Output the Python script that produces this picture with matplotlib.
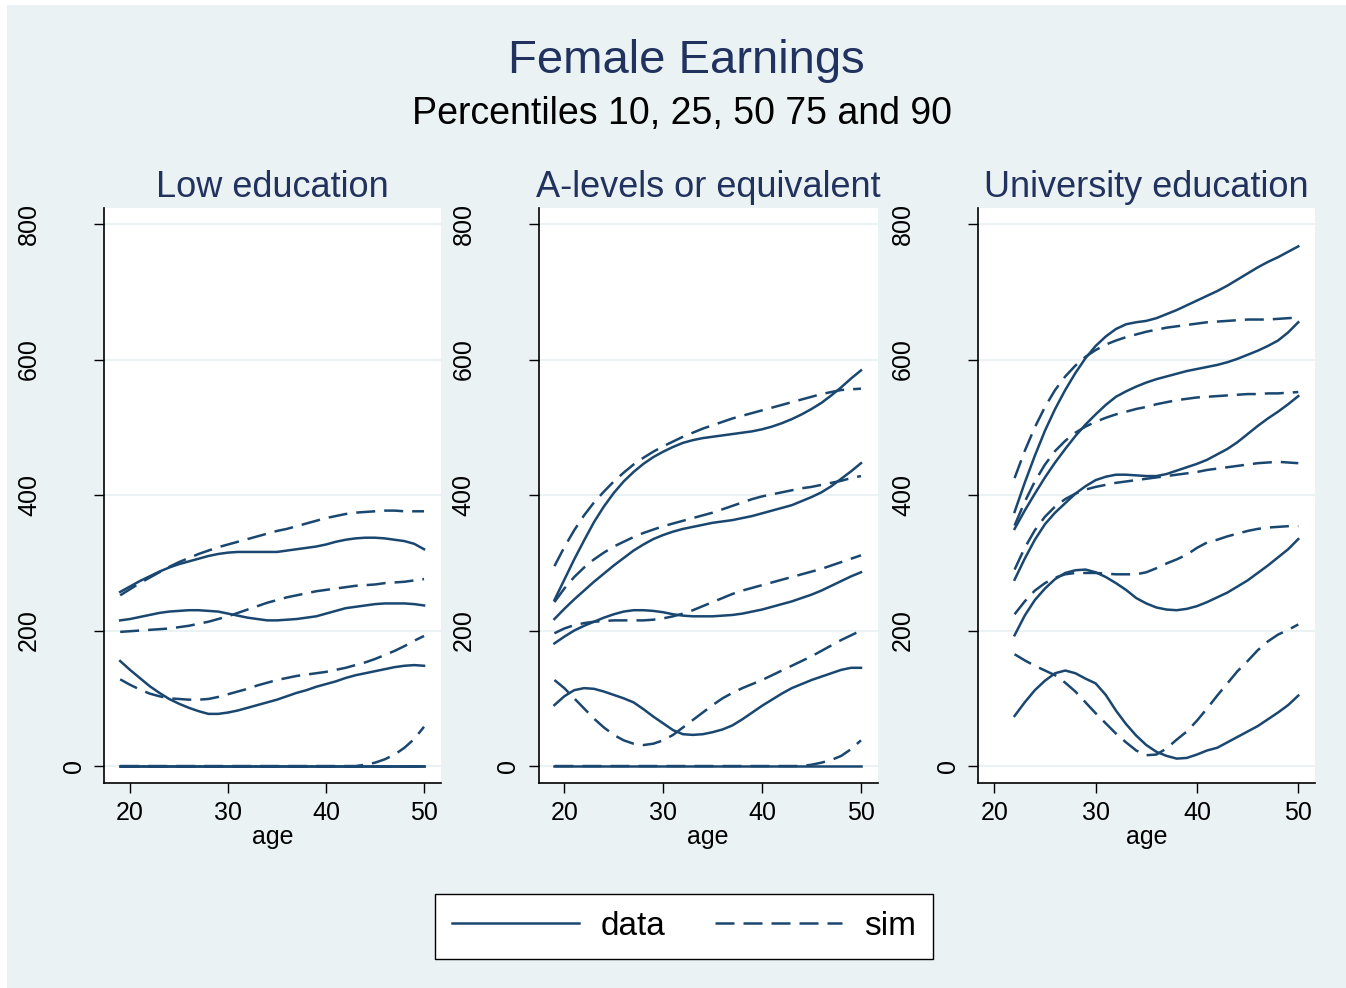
import matplotlib
matplotlib.use('Agg')
import numpy as np
import matplotlib.pyplot as plt
from matplotlib.patches import Rectangle

plt.rcParams['font.family'] = ['Liberation Sans', 'DejaVu Sans']

BG = '#EAF2F3'
NAVY = '#1A476F'
TITLE_COL = '#22325F'
DASH = (0, (7.6, 3.6))

W, H = 1346, 988

# ages on the horizontal axis
ages_young = np.arange(19, 51)   # low education / A-levels
ages_uni = np.arange(22, 51)     # university

# ---- Low education (weekly earnings percentiles) ----
low_data_p90 = [257, 265, 273, 280, 287, 293, 298, 302, 306, 310, 313, 315, 316, 316, 316, 316,
                316, 318, 320, 322, 324, 327, 331, 334, 336, 337, 337, 336, 334, 332, 328, 320]
low_sim_p90 = [252, 261, 270, 278, 286, 294, 301, 307, 313, 318, 323, 327, 331, 335, 339, 343,
               347, 350, 354, 358, 362, 366, 369, 372, 374, 375, 376, 377, 377, 376, 376, 376]
low_data_p75 = [215, 217, 220, 223, 226, 228, 229, 230, 230, 229, 228, 225, 222, 219, 217, 215,
                215, 216, 217, 219, 221, 225, 229, 233, 235, 237, 239, 240, 240, 240, 239, 237]
low_sim_p75 = [198, 199, 200, 201, 202, 203, 205, 207, 210, 213, 217, 221, 226, 231, 236, 241,
               245, 249, 252, 255, 258, 260, 262, 264, 266, 267, 268, 270, 271, 272, 274, 276]
low_data_p50 = [155, 142, 130, 118, 108, 99, 92, 86, 81, 77, 77, 79, 82, 86, 90, 94,
                98, 103, 108, 112, 117, 121, 125, 130, 134, 137, 140, 143, 146, 148, 149, 148]
low_sim_p50 = [128, 120, 113, 107, 103, 100, 99, 98, 98, 99, 102, 106, 110, 114, 119, 123,
               127, 130, 133, 135, 137, 139, 142, 145, 149, 153, 158, 164, 170, 177, 185, 192]
low_data_p25 = [0] * 32
low_sim_p25 = [0, 0, 0, 0, 0, 0, 0, 0, 0, 0, 0, 0, 0, 0, 0, 0,
               0, 0, 0, 0, 0, 0, 0, 0, 0, 2, 5, 10, 17, 27, 40, 58]
low_data_p10 = [0] * 32
low_sim_p10 = [0] * 32

# ---- A-levels or equivalent ----
alv_data_p90 = [245, 275, 305, 333, 360, 383, 403, 420, 434, 446, 456, 464, 471, 477, 481, 484,
                486, 488, 490, 492, 494, 497, 501, 506, 512, 519, 527, 536, 547, 559, 572, 584]
alv_sim_p90 = [295, 323, 348, 370, 389, 405, 420, 433, 445, 455, 464, 472, 479, 486, 492, 498,
               503, 508, 513, 517, 521, 525, 529, 533, 537, 541, 545, 549, 552, 555, 556, 557]
alv_data_p75 = [217, 232, 246, 259, 272, 284, 296, 307, 318, 327, 335, 341, 346, 350, 353, 356,
                359, 361, 363, 366, 369, 373, 377, 381, 385, 391, 397, 404, 413, 424, 435, 447]
alv_sim_p75 = [242, 262, 279, 293, 305, 315, 324, 331, 338, 344, 349, 354, 358, 362, 366, 370,
               374, 379, 384, 389, 394, 398, 401, 404, 407, 410, 412, 415, 418, 421, 425, 428]
alv_data_p50 = [181, 191, 200, 207, 213, 219, 224, 228, 230, 230, 229, 227, 224, 222, 221, 221,
                221, 222, 223, 225, 228, 231, 235, 239, 243, 248, 253, 259, 266, 273, 280, 286]
alv_sim_p50 = [196, 203, 208, 211, 213, 214, 215, 215, 215, 215, 216, 218, 221, 225, 230, 236,
               242, 248, 254, 259, 263, 267, 271, 275, 279, 283, 287, 291, 296, 301, 306, 311]
alv_data_p25 = [90, 103, 112, 115, 114, 110, 105, 100, 94, 84, 73, 63, 53, 47, 46, 47,
                50, 54, 60, 69, 79, 89, 98, 107, 115, 121, 127, 132, 137, 142, 145, 145]
alv_sim_p25 = [127, 115, 100, 85, 70, 57, 46, 38, 33, 31, 33, 38, 46, 57, 68, 79,
               90, 100, 108, 115, 121, 127, 134, 141, 148, 155, 162, 170, 178, 186, 193, 200]
alv_data_p10 = [0] * 32
alv_sim_p10 = [0, 0, 0, 0, 0, 0, 0, 0, 0, 0, 0, 0, 0, 0, 0, 0,
               0, 0, 0, 0, 0, 0, 0, 0, 0, 0, 2, 5, 9, 15, 25, 38]

# ---- University education ----
uni_data_p90 = [375, 418, 458, 495, 527, 555, 580, 602, 620, 634, 645, 652, 655, 657, 661,
                667, 673, 680, 687, 694, 701, 709, 718, 727, 736, 744, 751, 759, 767]
uni_sim_p90 = [425, 465, 500, 530, 555, 575, 591, 604, 614, 622, 628, 633, 637, 641, 644,
               647, 649, 651, 653, 655, 656, 657, 658, 659, 659, 659, 660, 661, 662]
uni_data_p75 = [350, 377, 402, 426, 448, 468, 487, 504, 519, 533, 545, 553, 560, 566, 571,
                575, 579, 583, 586, 589, 592, 596, 601, 607, 613, 620, 628, 640, 655]
uni_sim_p75 = [355, 390, 420, 445, 465, 480, 492, 501, 508, 514, 519, 523, 527, 530, 534,
               537, 540, 542, 544, 545, 546, 547, 548, 549, 549, 550, 550, 551, 552]
uni_data_p50 = [275, 306, 334, 357, 374, 388, 402, 413, 422, 427, 430, 430, 429, 428, 428,
                431, 436, 441, 446, 452, 460, 468, 478, 490, 502, 513, 523, 534, 546]
uni_sim_p50 = [290, 322, 348, 368, 383, 394, 402, 408, 412, 415, 418, 420, 422, 424, 426,
               428, 430, 432, 434, 437, 439, 441, 443, 445, 447, 448, 449, 448, 447]
uni_data_p25 = [193, 222, 245, 262, 276, 285, 289, 290, 286, 279, 270, 260, 248, 240, 234,
                231, 230, 232, 236, 242, 249, 256, 265, 274, 285, 296, 308, 320, 335]
uni_sim_p25 = [224, 243, 259, 270, 278, 283, 285, 285, 285, 284, 283, 283, 283, 286, 292,
               299, 305, 312, 322, 330, 334, 339, 343, 347, 350, 352, 353, 354, 354]
uni_data_p10 = [74, 94, 112, 126, 137, 141, 137, 129, 122, 105, 82, 62, 45, 31, 21,
                15, 11, 12, 17, 23, 27, 35, 43, 51, 59, 69, 79, 90, 104]
uni_sim_p10 = [165, 156, 148, 141, 134, 123, 110, 94, 78, 63, 48, 35, 23, 16, 17,
               26, 39, 51, 67, 85, 104, 122, 140, 155, 171, 184, 194, 201, 209]

panels = [
    ('Low education', ages_young, (17.35, 51.73),
     [low_data_p10, low_data_p25, low_data_p50, low_data_p75, low_data_p90],
     [low_sim_p10, low_sim_p25, low_sim_p50, low_sim_p75, low_sim_p90]),
    ('A-levels or equivalent', ages_young, (17.39, 51.72),
     [alv_data_p10, alv_data_p25, alv_data_p50, alv_data_p75, alv_data_p90],
     [alv_sim_p10, alv_sim_p25, alv_sim_p50, alv_sim_p75, alv_sim_p90]),
    ('University education', ages_uni, (18.39, 51.65),
     [uni_data_p10, uni_data_p25, uni_data_p50, uni_data_p75, uni_data_p90],
     [uni_sim_p10, uni_sim_p25, uni_sim_p50, uni_sim_p75, uni_sim_p90]),
]
# panel boxes in pixels: left, right
boxes = [(104, 441), (538.5, 878), (978, 1315)]
top_px, bot_px = 208, 783

fig = plt.figure(figsize=(W / 100, H / 100), dpi=100)
fig.patch.set_facecolor('white')
fig.add_artist(Rectangle((7 / W, 0), 1 - 7 / W, 1 - 5 / H, transform=fig.transFigure,
                         facecolor=BG, edgecolor='none', zorder=-10))

handles = None
for (title, ages, xlim, data_sets, sim_sets), (lpx, rpx) in zip(panels, boxes):
    ax = fig.add_axes([lpx / W, 1 - bot_px / H, (rpx - lpx) / W, (bot_px - top_px) / H])
    ax.set_facecolor('white')
    for d, s in zip(data_sets, sim_sets):
        hd, = ax.plot(ages, d, color=NAVY, lw=1.8, solid_joinstyle='round', zorder=3)
        hs, = ax.plot(ages, s, color=NAVY, lw=1.8, linestyle=DASH, zorder=3)
    if handles is None:
        handles = [hd, hs]

    ax.set_xlim(*xlim)
    ax.set_ylim(-25, 823.6)
    ax.set_xticks([20, 30, 40, 50])
    ax.set_yticks([0, 200, 400, 600, 800])
    ax.yaxis.grid(True, color=BG, lw=1.5, zorder=0)
    ax.set_axisbelow(True)
    for side in ('top', 'right'):
        ax.spines[side].set_visible(False)
    for side in ('left', 'bottom'):
        ax.spines[side].set_linewidth(1.2)
        ax.spines[side].set_color('black')
    ax.tick_params(axis='both', length=7.2, width=1.0, labelsize=18, colors='black')
    ax.tick_params(axis='x', pad=6)
    for lab in ax.get_yticklabels():
        lab.set_rotation(90)
        lab.set_va('center')
    for t, v in zip(ax.yaxis.get_major_ticks(), [0, 200, 400, 600, 800]):
        t.set_pad(6 if v == 0 else 38)
    ax.set_xlabel('age', fontsize=18, labelpad=0)
    ax.set_title(title, fontsize=26, color=TITLE_COL, pad=8)

fig.text(686 / W, 1 - 73 / H, 'Female Earnings', ha='center', va='baseline',
         fontsize=34, color=TITLE_COL)
fig.text(682 / W, 1 - 124 / H, 'Percentiles 10, 25, 50 75 and 90', ha='center', va='baseline',
         fontsize=27, color='black')

leg = fig.legend(handles, ['data', 'sim'], loc='center', ncol=2,
                 bbox_to_anchor=(684 / W, 1 - 926.5 / H), fontsize=24,
                 handlelength=3.8, handletextpad=0.66, columnspacing=1.5,
                 borderpad=0.5, fancybox=False, framealpha=1)
leg.get_frame().set_edgecolor('black')
leg.get_frame().set_linewidth(1.0)

fig.savefig('out.png', dpi=100, facecolor=fig.get_facecolor())
